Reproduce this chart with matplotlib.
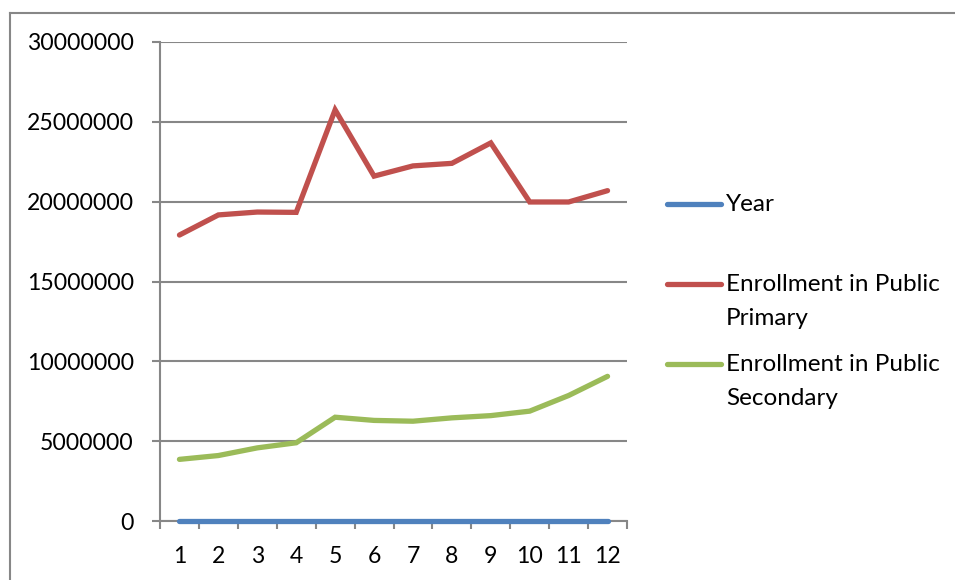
import matplotlib
matplotlib.use("Agg")
import matplotlib.pyplot as plt
from matplotlib.lines import Line2D

plt.rcParams['font.family'] = ['Lato', 'DejaVu Sans']

# Data
categories = [1, 2, 3, 4, 5, 6, 7, 8, 9, 10, 11, 12]
year = [2000, 2001, 2002, 2003, 2004, 2005, 2006, 2007, 2008, 2009, 2010, 2011]
primary = [17910000, 19170000, 19350000, 19330000, 25750000, 21600000,
           22240000, 22400000, 23680000, 19980000, 19980000, 20690000]
secondary = [3860000, 4100000, 4580000, 4900000, 6500000, 6300000,
             6250000, 6460000, 6600000, 6880000, 7860000, 9060000]
series_names = ["Year", "Enrollment in Public\nPrimary", "Enrollment in Public\nSecondary"]
series_colors = ["#4F81BD", "#C0504D", "#9BBB59"]
y_ticks = [0, 5000000, 10000000, 15000000, 20000000, 25000000, 30000000]

GRID = "#878787"
FS = 16.6
LEG_FS = 17.5

fig = plt.figure(figsize=(9.55, 5.8), dpi=100)
ax = fig.add_axes([160 / 955, 1 - 521 / 580, (627 - 160) / 955, (521 - 42) / 580])

lw = 3.8
for vals, col in zip([year, primary, secondary], series_colors):
    ax.plot(categories, vals, color=col, lw=lw, solid_capstyle='round',
            solid_joinstyle='miter', zorder=3, clip_on=False)

ax.set_xlim(0.5, 12.5)
ax.set_ylim(0, 30000000)
ax.set_yticks(y_ticks)
ax.set_yticklabels([str(v) for v in y_ticks])
ax.yaxis.grid(True, color=GRID, lw=1.5)
ax.set_axisbelow(True)

# category boundaries carry the tick marks, labels sit between them
ax.set_xticks([c - 0.5 for c in categories] + [categories[-1] + 0.5])
ax.set_xticklabels([])
ax.set_xticks(categories, minor=True)
ax.set_xticklabels([str(c) for c in categories], minor=True)
ax.tick_params(axis='x', which='major', length=6, width=1.5, color=GRID, direction='out')
ax.tick_params(axis='x', which='minor', length=0, pad=18, labelsize=FS)
ax.tick_params(axis='y', length=6, width=1.5, color=GRID, direction='out', pad=13, labelsize=FS)

for s in ['top', 'right']:
    ax.spines[s].set_visible(False)
for s in ['left', 'bottom']:
    ax.spines[s].set_color(GRID)
    ax.spines[s].set_linewidth(1.5)
    ax.spines[s].set_zorder(2)

# Legend
W, H = 955, 580
def fx(px):
    return px / W
def fy(py):
    return 1 - py / H

legend_rows = [204, 284, 364]
for name, col, yy in zip(series_names, series_colors, legend_rows):
    fig.add_artist(Line2D([fx(667), fx(721)], [fy(yy), fy(yy)], color=col, lw=lw,
                          solid_capstyle='round'))
    fig.text(fx(726), fy(yy - 10), name, fontsize=LEG_FS, va='top', ha='left',
             linespacing=1.75)

# Chart area border
fig.add_artist(Line2D([fx(9.5), fx(9.5)], [fy(580), fy(12.5)], color=GRID, lw=1.5))
fig.add_artist(Line2D([fx(9.5), fx(955)], [fy(12.5), fy(12.5)], color=GRID, lw=1.5))

fig.savefig("out.png", dpi=100)
